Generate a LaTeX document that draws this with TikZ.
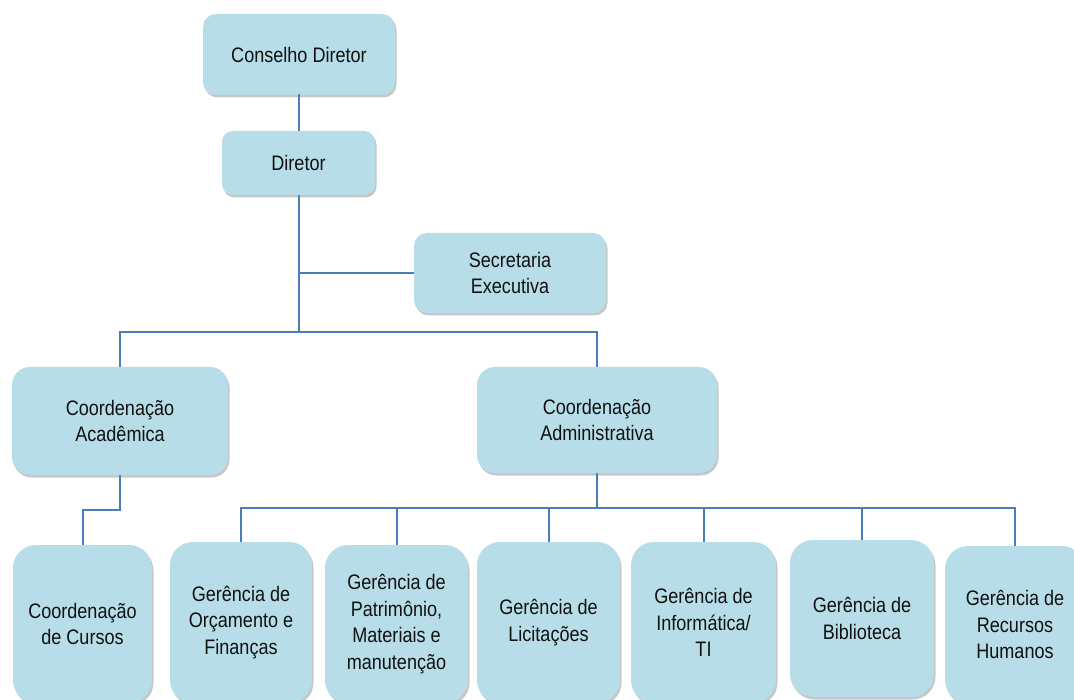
\documentclass[tikz,border=0pt]{standalone}
\usepackage{fontspec}
\setmainfont[FakeStretch=0.86]{Liberation Sans}
\usetikzlibrary{shadows}
\definecolor{boxfill}{HTML}{B7DDE8}
\definecolor{linkblue}{HTML}{4A7EBB}
\definecolor{txt}{HTML}{111111}
\tikzset{
  orgbox/.style={fill=boxfill, draw=none, inner sep=0pt, align=center,
    text=txt, font=\fontsize{21}{26.5}\selectfont,
    drop shadow={shadow xshift=1.5pt, shadow yshift=-2.5pt, fill=black, opacity=0.22}},
  link/.style={draw=linkblue, line width=2pt}
}
\begin{document}
\begin{tikzpicture}[x=1pt,y=1pt]
\useasboundingbox (0,0) rectangle (1074,-700);
\clip (0,0) rectangle (1074,-700);
\fill[white] (0,0) rectangle (1074,-700);
% top level
\node[orgbox, rounded corners=13pt, minimum width=192pt, minimum height=81pt] (cd) at (299,-54.5) {Conselho Diretor};
\node[orgbox, rounded corners=11pt, minimum width=153pt, minimum height=64pt] (dir) at (298.5,-163) {Diretor};
\node[orgbox, rounded corners=13pt, minimum width=192pt, minimum height=80pt] (sec) at (510,-273) {Secretaria\\Executiva};
\node[orgbox, rounded corners=18pt, minimum width=216pt, minimum height=108pt] (ca) at (120,-421) {Coordenação\\Acadêmica};
\node[orgbox, rounded corners=18pt, minimum width=240pt, minimum height=106pt] (cadm) at (597,-420) {Coordenação\\Administrativa};
% bottom level
\node[orgbox, rounded corners=23pt, minimum width=139pt, minimum height=158pt] (cur) at (82.5,-624) {Coordenação\\de Cursos};
\node[orgbox, rounded corners=23pt, minimum width=142pt, minimum height=161pt] (orc) at (241,-622.5) {Gerência de\\Orçamento e\\Finanças};
\node[orgbox, rounded corners=23pt, minimum width=143pt, minimum height=158pt] (pat) at (396.5,-624) {Gerência de\\Patrimônio,\\Materiais e\\manutenção};
\node[orgbox, rounded corners=23pt, minimum width=143pt, minimum height=161pt] (lic) at (548.5,-622.5) {Gerência de\\Licitações};
\node[orgbox, rounded corners=23pt, minimum width=145pt, minimum height=161pt] (inf) at (703.5,-622.5) {Gerência de\\Informática/\\TI};
\node[orgbox, rounded corners=23pt, minimum width=144pt, minimum height=157pt] (bib) at (862,-618.5) {Gerência de\\Biblioteca};
\node[orgbox, rounded corners=23pt, minimum width=140pt, minimum height=157pt] (rh) at (1015,-624.5) {Gerência de\\Recursos\\Humanos};
% connectors
\coordinate (b1) at (298.5,-332);
\coordinate (b2) at (597,-508);
\draw[link] (cd.south) -- (dir.south |- cd.south) -- (dir.north);
\draw[link] (dir.south) -- (b1);
\draw[link] (dir.south |- sec.west) -- (sec.west);
\draw[link] (ca.north) |- (b1) -| (cadm.north);
\draw[link] (ca.south) -- ++(0,-35) -| (cur.north);
\draw[link] (cadm.south) -- (b2);
\draw[link] (orc.north) |- (b2) -| (rh.north);
\draw[link] (pat.north) -- (pat.north |- b2);
\draw[link] (lic.north) -- (lic.north |- b2);
\draw[link] (inf.north) -- (inf.north |- b2);
\draw[link] (bib.north) -- (bib.north |- b2);
\end{tikzpicture}
\end{document}
